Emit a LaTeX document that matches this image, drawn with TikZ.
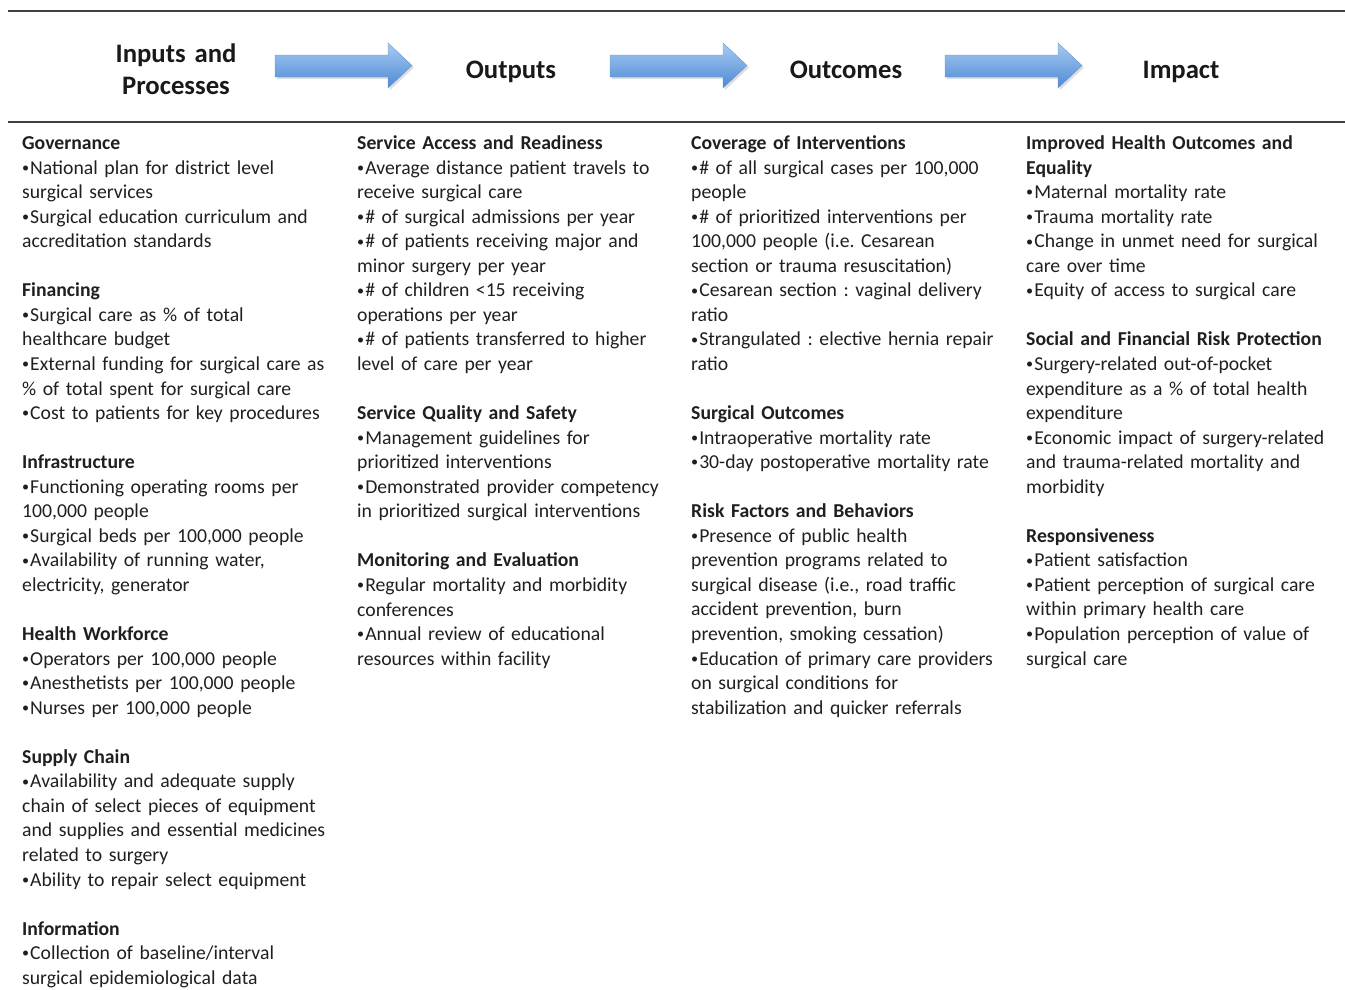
\documentclass[tikz,border=0pt]{standalone}
\usepackage{fontspec}
\setmainfont{Carlito}
\frenchspacing
\newcommand\bul{\raisebox{0.18ex}{\scalebox{0.72}{•}}\hspace{0.05em}}
\definecolor{arrtop}{RGB}{168,202,242}
\definecolor{arrbot}{RGB}{78,138,212}
\definecolor{arredge}{RGB}{100,150,215}
\begin{document}
\begin{tikzpicture}[x=1pt,y=-1pt,
  hdr/.style={font=\fontsize{26.7}{32}\selectfont\bfseries, text=black!90, align=center, inner sep=0pt, anchor=base, text width=220pt},
  sec/.style={anchor=base west, inner sep=0pt, text width=335pt, align=left,
    font=\fontsize{19.7}{24.55}\selectfont, text=black!88},
  rulel/.style={draw=black!75, line width=1.8pt},
  blockarrow/.style={top color=arrtop, bottom color=arrbot, draw=arredge, line width=0.4pt}
]
\useasboundingbox (0,0) rectangle (1345,989);
\draw[rulel] (8,11) -- (1345,11);
\draw[rulel] (8,122) -- (1345,122);

\node[hdr] (h1) at (176,62.5) {Inputs and\\Processes};
\node[hdr] (h2) at (511,78) {Outputs};
\node[hdr] (h3) at (846,78) {Outcomes};
\node[hdr] (h4) at (1181,78) {Impact};

\foreach \x [count=\i] in {275,610,945}{
  \fill[black!13] (\x+2,57) -- (\x+115,57) -- (\x+115,45) -- (\x+139,67.5) -- (\x+115,90) -- (\x+115,79) -- (\x+2,79) -- cycle;
  \draw[blockarrow] (\x,55) -- (\x+113,55) -- (\x+113,43) -- (\x+137,65.5) -- (\x+113,88) -- (\x+113,77) -- (\x,77) -- cycle;
}

\begin{scope}[shift={(0,1.5)}]
% Column 1
\node[sec] (c1a) at (22,148) {\textbf{Governance}\\
\bul National plan for district level\\
surgical services\\
\bul Surgical education curriculum and\\
accreditation standards};
\node[sec] (c1b) at (22,295.3) {\textbf{Financing}\\
\bul Surgical care as \% of total\\
healthcare budget\\
\bul External funding for surgical care as\\
\% of total spent for surgical care\\
\bul Cost to patients for key procedures};
\node[sec] (c1c) at (22,467.2) {\textbf{Infrastructure}\\
\bul Functioning operating rooms per\\
100,000 people\\
\bul Surgical beds per 100,000 people\\
\bul Availability of running water,\\
electricity, generator};
\node[sec] (c1d) at (22,639) {\textbf{Health Workforce}\\
\bul Operators per 100,000 people\\
\bul Anesthetists per 100,000 people\\
\bul Nurses per 100,000 people};
\node[sec] (c1e) at (22,761.8) {\textbf{Supply Chain}\\
\bul Availability and adequate supply\\
chain of select pieces of equipment\\
and supplies and essential medicines\\
related to surgery\\
\bul Ability to repair select equipment};
\node[sec] (c1f) at (22,933.6) {\textbf{Information}\\
\bul Collection of baseline/interval\\
surgical epidemiological data};

% Column 2
\node[sec] (c2a) at (357,148) {\textbf{Service Access and Readiness}\\
\bul Average distance patient travels to\\
receive surgical care\\
\bul\# of surgical admissions per year\\
\bul\# of patients receiving major and\\
minor surgery per year\\
\bul\# of children <15 receiving\\
operations per year\\
\bul\# of patients transferred to higher\\
level of care per year};
\node[sec] (c2b) at (357,418) {\textbf{Service Quality and Safety}\\
\bul Management guidelines for\\
prioritized interventions\\
\bul Demonstrated provider competency\\
in prioritized surgical interventions};
\node[sec] (c2c) at (357,565.4) {\textbf{Monitoring and Evaluation}\\
\bul Regular mortality and morbidity\\
conferences\\
\bul Annual review of educational\\
resources within facility};

% Column 3
\node[sec] (c3a) at (691,148) {\textbf{Coverage of Interventions}\\
\bul\# of all surgical cases per 100,000\\
people\\
\bul\# of prioritized interventions per\\
100,000 people (i.e. Cesarean\\
section or trauma resuscitation)\\
\bul Cesarean section : vaginal delivery\\
ratio\\
\bul Strangulated : elective hernia repair\\
ratio};
\node[sec] (c3b) at (691,418) {\textbf{Surgical Outcomes}\\
\bul Intraoperative mortality rate\\
\bul 30-day postoperative mortality rate};
\node[sec] (c3c) at (691,516.2) {\textbf{Risk Factors and Behaviors}\\
\bul Presence of public health\\
prevention programs related to\\
surgical disease (i.e., road traffic\\
accident prevention, burn\\
prevention, smoking cessation)\\
\bul Education of primary care providers\\
on surgical conditions for\\
stabilization and quicker referrals};

% Column 4
\node[sec] (c4a) at (1026,148) {\textbf{Improved Health Outcomes and}\\
\textbf{Equality}\\
\bul Maternal mortality rate\\
\bul Trauma mortality rate\\
\bul Change in unmet need for surgical\\
care over time\\
\bul Equity of access to surgical care};
\node[sec] (c4b) at (1026,344.4) {\textbf{Social and Financial Risk Protection}\\
\bul Surgery-related out-of-pocket\\
expenditure as a \% of total health\\
expenditure\\
\bul Economic impact of surgery-related\\
and trauma-related mortality and\\
morbidity};
\node[sec] (c4c) at (1026,540.8) {\textbf{Responsiveness}\\
\bul Patient satisfaction\\
\bul Patient perception of surgical care\\
within primary health care\\
\bul Population perception of value of\\
surgical care};
\end{scope}
\end{tikzpicture}
\end{document}
